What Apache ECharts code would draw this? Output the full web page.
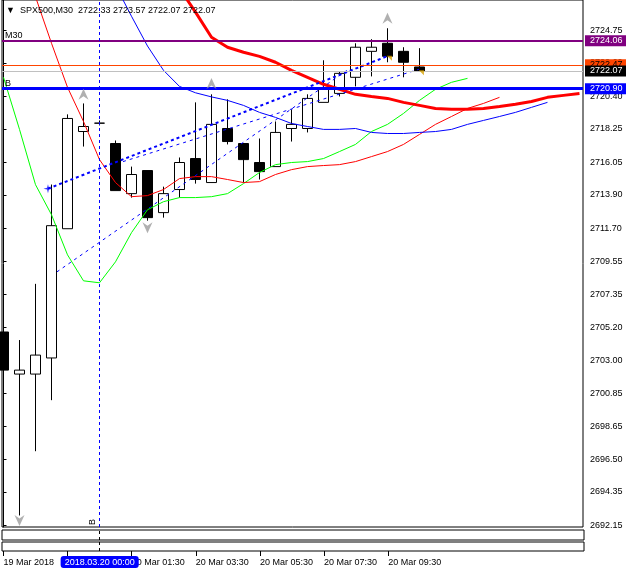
<!DOCTYPE html>
<html><head><meta charset="utf-8">
<script src="https://cdn.jsdelivr.net/npm/echarts@6/dist/echarts.min.js"></script>
<style>html,body{margin:0;padding:0;background:#fff}#c{width:626px;height:572px}</style>
</head><body><div id="c"></div>
<script>
// ---- data ----
const barTimes = ['19 Mar 21:00','19 Mar 21:30','19 Mar 22:00','19 Mar 22:30','19 Mar 23:00','19 Mar 23:30','20 Mar 00:00','20 Mar 01:00','20 Mar 01:30','20 Mar 02:00','20 Mar 02:30','20 Mar 03:00','20 Mar 03:30','20 Mar 04:00','20 Mar 04:30','20 Mar 05:00','20 Mar 05:30','20 Mar 06:00','20 Mar 06:30','20 Mar 07:00','20 Mar 07:30','20 Mar 08:00','20 Mar 08:30','20 Mar 09:00','20 Mar 09:30','20 Mar 10:00','20 Mar 10:30'];
const opens  = [2704.88,2702.11,2702.11,2703.17,2711.68,2718.08,2718.63,2717.29,2713.99,2715.51,2712.74,2714.26,2716.30,2714.72,2718.28,2717.29,2716.04,2715.77,2718.28,2718.28,2720.00,2720.59,2721.65,2723.36,2723.89,2723.36,2722.33];
const closes = [2702.37,2702.37,2703.36,2711.88,2718.94,2718.41,2718.63,2714.19,2715.25,2712.41,2713.99,2716.04,2714.92,2718.55,2717.42,2716.23,2715.44,2718.02,2718.55,2720.26,2720.86,2721.91,2723.63,2723.63,2723.03,2722.64,2722.07];
const highs  = [2708.18,2704.35,2708.05,2714.59,2719.21,2719.93,2718.81,2717.49,2715.77,2715.51,2714.45,2716.37,2720.00,2720.53,2720.20,2717.29,2717.62,2718.74,2719.54,2720.53,2722.77,2722.04,2723.89,2724.16,2724.88,2723.63,2723.57];
const lows   = [2699.07,2692.80,2697.03,2700.39,2711.68,2717.09,2718.48,2714.19,2713.73,2712.21,2712.41,2713.73,2714.65,2714.72,2717.23,2714.72,2714.92,2715.77,2717.42,2718.02,2720.00,2720.39,2721.05,2721.71,2722.64,2721.65,2722.07];

// Alligator lines (index = bar position, shifted lines run past the last bar)
const lips  = [2721.65,2718.22,2714.58,2712.60,2709.96,2708.25,2708.12,2709.50,2711.42,2712.93,2713.46,2713.73,2713.73,2713.79,2713.99,2714.65,2715.38,2715.90,2716.04,2716.10,2716.30,2716.76,2717.23,2718.08,2718.55,2719.27,2720.13,2720.86,2721.32,2721.58];
const teeth = [null,null,2726.95,2723.89,2720.99,2718.74,2716.23,2714.72,2713.79,2713.86,2714.26,2714.98,2715.11,2715.11,2714.92,2714.72,2714.78,2715.25,2715.57,2715.77,2715.84,2715.90,2716.10,2716.43,2716.76,2717.23,2717.89,2718.55,2719.07,2719.60,2719.93,2720.33];
const jaw   = [null,null,null,null,null,null,null,2727.70,2725.67,2723.71,2722.11,2721.05,2720.63,2720.36,2720.13,2719.80,2719.34,2719.01,2718.61,2718.41,2718.22,2718.22,2718.28,2718.02,2717.95,2717.95,2718.02,2718.08,2718.22,2718.55,2718.81,2719.07,2719.34,2719.67,2720.00];
const slowMA = [null,null,null,null,null,null,null,null,null,null,null,2727.51,2725.94,2724.29,2723.63,2723.30,2723.03,2722.64,2722.11,2721.65,2721.19,2720.86,2720.53,2720.39,2720.26,2720.00,2719.80,2719.60,2719.54,2719.54,2719.60,2719.73,2719.87,2720.06,2720.33,2720.46,2720.59];

const fractalsUp   = [[5, 2720.53], [13, 2721.25], [24, 2725.54]];
const fractalsDown = [[1, 2692.47], [9, 2711.75]];
const starPoint    = [[2.78, 2714.32]];
const tradeMarks   = [[24.12, 2722.90], [26.12, 2721.95]];
const trendLines = [
  [[2.78, 2714.32], [23.97, 2723.03]],
  [[7.47, 2716.10], [25.97, 2722.18]],
  [[3.34, 2708.84], [21.47, 2722.11]]
];

const levelM30 = 2724.06, levelOrange = 2722.47, levelBid = 2722.07, levelB = 2720.90;
const vLineBar = 6;
const vLineLabel = '2018.03.20 00:00';
const headerSymbol = 'SPX500,M30';
const headerOHLC = ['2722.33','2723.57','2722.07','2722.07'];

const yTicks = [2692.15,2694.35,2696.50,2698.65,2700.85,2703.00,2705.20,2707.35,2709.55,2711.70,2713.90,2716.05,2718.25,2720.40,2722.60,2724.75];
const xTickBars = [0,4,8,12,16,20,24];
const xTickLabels = ['19 Mar 2018','19 Mar 23:00','20 Mar 01:30','20 Mar 03:30','20 Mar 05:30','20 Mar 07:30','20 Mar 09:30'];

// ---- chart ----
const FONT = "'Liberation Sans', Arial, sans-serif";
const FS = 9;
const X_MIN = -0.094, X_MAX = 36.22;
const Y_MIN = 2692.04, Y_MAX = 2726.74;

const toPairs = arr => arr.map((v, i) => v == null ? null : [i, v]).filter(p => p);
const candleData = opens.map((o, i) => [i, o, closes[i], lows[i], highs[i]]);

function priceLabel(bg, fg) {
  return { show: true, position: 'end', distance: 2, formatter: p => p.value.toFixed(2),
    backgroundColor: bg, color: fg, padding: [1, 4, 0, 5], lineHeight: 10, fontSize: FS, fontFamily: FONT };
}
function cornerLabel(txt) {
  return { show: true, position: 'insideStartTop', distance: 1, formatter: txt, color: '#000', fontSize: FS, fontFamily: FONT, padding: [0, 0, 0, 2] };
}

const xAxisBase = { type: 'value', min: X_MIN, max: X_MAX, splitLine: { show: false } };
const subYAxis = { type: 'value', min: 0, max: 1, show: false };
const vLineSub = { symbol: ['none', 'none'], silent: true, animation: false,
  lineStyle: { color: '#000', type: [3, 3], width: 1 }, label: { show: false },
  data: [{ xAxis: vLineBar }] };
const gridBase = { show: true, borderColor: '#000', borderWidth: 1, outerBoundsMode: 'none', containLabel: false };

const option = {
  animation: false,
  backgroundColor: '#fff',
  textStyle: { fontFamily: FONT },
  title: {
    text: '▼  ' + headerSymbol + '  ' + headerOHLC.join(' '),
    left: 6, top: 6, padding: 0,
    textStyle: { fontSize: FS, fontWeight: 'normal', color: '#000', fontFamily: FONT }
  },
  axisPointer: { triggerOn: 'none' },
  grid: [
    Object.assign({ left: 2, right: 43, top: 0, bottom: 45 }, gridBase),
    Object.assign({ left: 2, right: 42, top: 530, height: 10 }, gridBase),
    Object.assign({ left: 2, right: 42, top: 542, height: 9 }, gridBase)
  ],
  xAxis: [
    Object.assign({ gridIndex: 0, show: false }, xAxisBase),
    Object.assign({ gridIndex: 1, show: false }, xAxisBase),
    Object.assign({ gridIndex: 2, position: 'bottom',
      axisLine: { show: false },
      axisTick: { show: true, length: 5, customValues: xTickBars, lineStyle: { color: '#000' } },
      axisLabel: { customValues: xTickBars, color: '#000', fontSize: FS, margin: 7, align: 'left', fontFamily: FONT, hideOverlap: false,
        formatter: v => { const k = xTickBars.indexOf(Math.round(v)); return k >= 0 ? xTickLabels[k] : ''; } },
      axisPointer: { show: true, value: vLineBar, status: 'show', snap: false, triggerTooltip: false,
        lineStyle: { color: '#000', type: [3, 3], width: 1 },
        label: { show: true, formatter: () => vLineLabel, backgroundColor: '#0000ff', color: '#fff',
          padding: [2, 4, 1, 4], margin: 5, fontSize: FS, fontFamily: FONT, borderWidth: 0, shadowBlur: 0 },
        handle: { show: false } }
    }, xAxisBase)
  ],
  yAxis: [
    { type: 'value', gridIndex: 0, position: 'right', min: Y_MIN, max: Y_MAX,
      axisLine: { show: true, lineStyle: { color: '#000' } },
      axisTick: { show: true, length: 3, customValues: yTicks, lineStyle: { color: '#000' } },
      axisLabel: { customValues: yTicks, formatter: v => v.toFixed(2), color: '#000', fontSize: FS, margin: 7, fontFamily: FONT },
      splitLine: { show: false } },
    Object.assign({ gridIndex: 1 }, subYAxis),
    Object.assign({ gridIndex: 2 }, subYAxis)
  ],
  series: [
    {
      type: 'candlestick', xAxisIndex: 0, yAxisIndex: 0, z: 2,
      data: candleData, encode: { x: 0, y: [1, 2, 3, 4] },
      barWidth: 10,
      itemStyle: { color: '#fff', color0: '#000', borderColor: '#000', borderColor0: '#000', borderWidth: 1 },
      markLine: {
        symbol: ['none', 'none'], silent: true, animation: false, precision: 2,
        data: [
          { yAxis: levelOrange, lineStyle: { color: '#ff4500', width: 1, type: 'solid' }, label: priceLabel('#ff4500', '#000') },
          { yAxis: levelBid, lineStyle: { color: '#c0c0c0', width: 1, type: 'solid' }, label: priceLabel('#000', '#fff') },
          { yAxis: levelM30, lineStyle: { color: '#800080', width: 2, type: 'solid' }, label: priceLabel('#800080', '#fff') },
          { yAxis: levelM30, lineStyle: { color: '#800080', width: 2, type: 'solid' }, label: cornerLabel('M30') },
          { yAxis: levelB, lineStyle: { color: '#0000ff', width: 3, type: 'solid' }, label: priceLabel('#0000ff', '#fff') },
          { yAxis: levelB, lineStyle: { color: '#0000ff', width: 3, type: 'solid' }, label: cornerLabel('B') },
          { xAxis: vLineBar, lineStyle: { color: '#0000ff', width: 1, type: [3, 3] },
            label: { show: true, position: 'insideStartTop', formatter: 'B', distance: 2, color: '#000', fontSize: FS, fontFamily: FONT } }
        ]
      }
    },
    { type: 'line', name: 'lips', data: toPairs(lips), xAxisIndex: 0, yAxisIndex: 0, symbol: 'none', z: 3,
      lineStyle: { color: '#00ff00', width: 1 } },
    { type: 'line', name: 'teeth', data: toPairs(teeth), xAxisIndex: 0, yAxisIndex: 0, symbol: 'none', z: 3,
      lineStyle: { color: '#ff0000', width: 1 } },
    { type: 'line', name: 'jaw', data: toPairs(jaw), xAxisIndex: 0, yAxisIndex: 0, symbol: 'none', z: 3,
      lineStyle: { color: '#0000ff', width: 1 } },
    { type: 'line', name: 'slowMA', data: toPairs(slowMA), xAxisIndex: 0, yAxisIndex: 0, symbol: 'none', z: 3,
      lineStyle: { color: '#ff0000', width: 3 } },
    ...trendLines.map((tl, k) => ({ type: 'line', data: tl, xAxisIndex: 0, yAxisIndex: 0, symbol: 'none', z: 4,
      lineStyle: { color: '#0000ff', width: k === 0 ? 2 : 1, type: k === 0 ? [3, 3] : [3, 4] } })),
    { type: 'scatter', data: fractalsUp, xAxisIndex: 0, yAxisIndex: 0, z: 5,
      symbol: 'path://M5,0 L10,11 L5,7.5 L0,11 Z', symbolSize: [10, 11], itemStyle: { color: '#9c9c9c' } },
    { type: 'scatter', data: fractalsDown, xAxisIndex: 0, yAxisIndex: 0, z: 5,
      symbol: 'path://M0,0 L5,3.5 L10,0 L5,11 Z', symbolSize: [10, 11], itemStyle: { color: '#9c9c9c' } },
    { type: 'scatter', data: starPoint, xAxisIndex: 0, yAxisIndex: 0, z: 5,
      symbol: 'path://M5,0 L6,4 L10,5 L6,6 L5,10 L4,6 L0,5 L4,4 Z', symbolSize: 9, itemStyle: { color: '#0000ff' } },
    { type: 'scatter', data: tradeMarks, xAxisIndex: 0, yAxisIndex: 0, z: 5,
      symbol: 'path://M0,0 L8,0 L8,8 Z', symbolSize: 5, itemStyle: { color: '#d4a000' } },
    { type: 'line', data: [], xAxisIndex: 1, yAxisIndex: 1, markLine: vLineSub },
    { type: 'line', data: [], xAxisIndex: 2, yAxisIndex: 2, markLine: vLineSub }
  ]
};

const chart = echarts.init(document.getElementById('c'), null, { renderer: 'canvas' });
chart.setOption(option);
</script>
</body></html>
